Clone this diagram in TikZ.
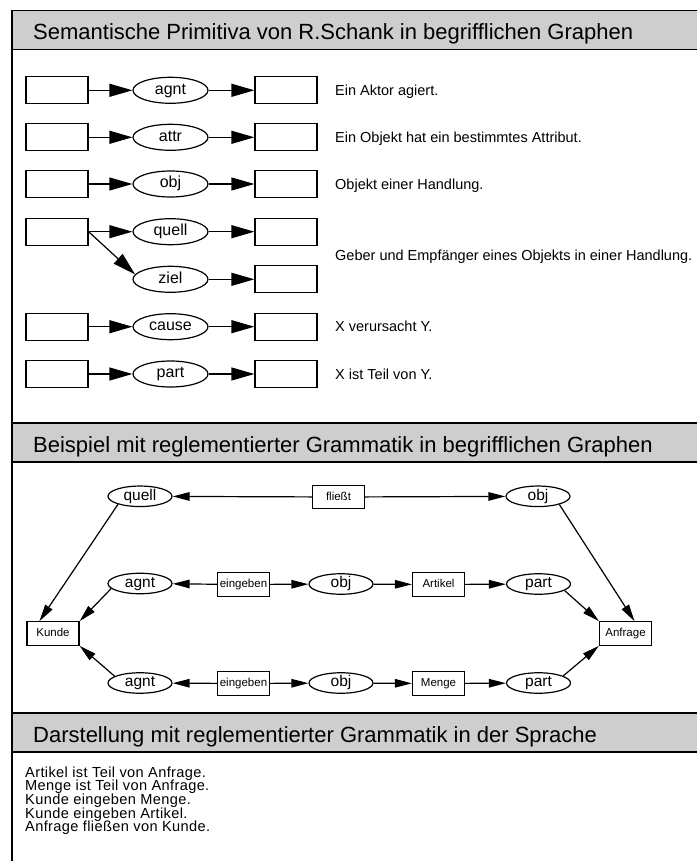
\documentclass[tikz,border=0pt]{standalone}
\usepackage{fontspec}
\setmainfont{Liberation Sans}
\newfontfamily\sentfont[LetterSpace=2.5]{Liberation Sans}
\usetikzlibrary{arrows.meta,shapes.geometric,calc}
\definecolor{hdr}{RGB}{206,206,206}
\begin{document}
\begin{tikzpicture}[x=1pt,y=-1pt,
  hdrtxt/.style={anchor=base west,inner sep=0pt,font=\fontsize{22}{26}\selectfont},
  desc/.style={anchor=base west,inner sep=0pt,font=\fontsize{14.5}{17}\selectfont},
  sent/.style={anchor=base west,inner sep=0pt,font=\sentfont\fontsize{14.6}{16}\selectfont},
  bx/.style={draw,line width=1.2pt,minimum width=62pt,minimum height=27pt,inner sep=0pt},
  el/.style={draw,ellipse,line width=1.2pt,minimum width=75pt,minimum height=26pt,inner sep=0pt,
    font=\fontsize{16}{18}\selectfont,text height=11pt,text depth=3.5pt},
  bxs/.style={draw,line width=1.2pt,minimum width=52pt,minimum height=23.5pt,inner sep=0pt,
    font=\fontsize{11.5}{13}\selectfont,text height=8.5pt,text depth=2.5pt},
  els/.style={draw,ellipse,line width=1.2pt,minimum width=64pt,minimum height=19pt,inner sep=0pt,
    font=\fontsize{15.5}{17}\selectfont,text height=11pt,text depth=3.5pt},
  arA/.style={-{Triangle[length=23pt,width=13pt]},line width=1.2pt},
  arB/.style={-{Triangle[length=17pt,width=8.5pt]},line width=1.2pt}]
\useasboundingbox (0,0) rectangle (696,861);
% frame and header bands
\draw[line width=1.6pt] (12,10.5) -- (12,880);
\draw[line width=1.4pt,fill=hdr] (12,10.5) rectangle (710,49.5);
\draw[line width=1.4pt,fill=hdr] (12,423) rectangle (710,462);
\draw[line width=1.4pt,fill=hdr] (12,713) rectangle (710,752);
\node[hdrtxt] (h1) at (33,40) {Semantische Primitiva von R.Schank in begrifflichen Graphen};
\node[hdrtxt] (h2) at (33,452.5) {Beispiel mit reglementierter Grammatik in begrifflichen Graphen};
\node[hdrtxt] (h3) at (33,742.5) {Darstellung mit reglementierter Grammatik in der Sprache};
% section 1
\foreach \i/\y/\lab in {1/90.3/agnt,2/137.3/attr,3/184/obj,6/326.7/cause,7/374/part}{
  \node[bx] (L\i) at (57,\y) {};
  \node[el] (E\i) at (170.5,\y) {\lab};
  \node[bx] (R\i) at (286,\y) {};
  \draw[arA] (L\i) -- (E\i);
  \draw[arA] (E\i) -- (R\i);
}
\node[bx] (L4) at (57,231.7) {};
\node[el] (E4) at (170.5,231.7) {quell};
\node[bx] (R4) at (286,231.7) {};
\node[el] (E5) at (170.5,279.3) {ziel};
\node[bx] (R5) at (286,279.3) {};
\draw[arA] (L4) -- (E4);
\draw[arA] (E4) -- (R4);
\draw[arA] (L4.east) -- (E5.172);
\draw[arA] (E5) -- (R5);
\node[desc] (D1) at (335,95.3) {Ein Aktor agiert.};
\node[desc] (D2) at (335,142.3) {Ein Objekt hat ein bestimmtes Attribut.};
\node[desc] (D3) at (335,189.2) {Objekt einer Handlung.};
\node[desc] (D4) at (335,260.3) {Geber und Empfänger eines Objekts in einer Handlung.};
\node[desc] (D6) at (335,331.8) {X verursacht Y.};
\node[desc] (D7) at (335,379.1) {X ist Teil von Y.};
% section 2
\node[els] (q)   at (140,496.3) {quell};
\node[bxs] (f)   at (338.5,497) {fließt};
\node[els] (o1)  at (538,496.3) {obj};
\node[bxs] (ku)  at (53,633.5) {Kunde};
\node[bxs] (an)  at (625.5,633.5) {Anfrage};
\node[els] (ag1) at (140,583.5) {agnt};
\node[bxs] (ei1) at (243.5,584.5) {eingeben};
\node[els] (o2)  at (341,584) {obj};
\node[bxs] (ar)  at (438.5,584.5) {Artikel};
\node[els] (p1)  at (538.5,584) {part};
\node[els] (ag2) at (140,683) {agnt};
\node[bxs] (ei2) at (243.5,683.5) {eingeben};
\node[els] (o3)  at (341,683) {obj};
\node[bxs] (me)  at (438.5,683.5) {Menge};
\node[els] (p2)  at (538.5,683) {part};
\draw[arB] (f) -- (q);
\draw[arB] (f) -- (o1);
\draw[arB] (q.200) -- ([xshift=13pt]ku.north west);
\draw[arB] (ag1.190) -- (ku.north east);
\draw[arB] (ag2.165) -- (ku.south east);
\draw[arB] (ei1) -- (ag1);
\draw[arB] (ei1) -- (o2);
\draw[arB] (o2) -- (ar);
\draw[arB] (ar) -- (p1);
\draw[arB] (ei2) -- (ag2);
\draw[arB] (ei2) -- (o3);
\draw[arB] (o3) -- (me);
\draw[arB] (me) -- (p2);
\draw[arB] (p1.-14) -- (an.north west);
\draw[arB] (p2.16) -- (an.south west);
\draw[arB] (o1.-21) -- ([xshift=9pt]an.north);
% section 3
\node[sent] (s1) at (25,777.3) {Artikel ist Teil von Anfrage.};
\node[sent] (s2) at (25,790.9) {Menge ist Teil von Anfrage.};
\node[sent] (s3) at (25,804.5) {Kunde eingeben Menge.};
\node[sent] (s4) at (25,818.1) {Kunde eingeben Artikel.};
\node[sent] (s5) at (25,831.7) {Anfrage fließen von Kunde.};
\end{tikzpicture}
\end{document}
